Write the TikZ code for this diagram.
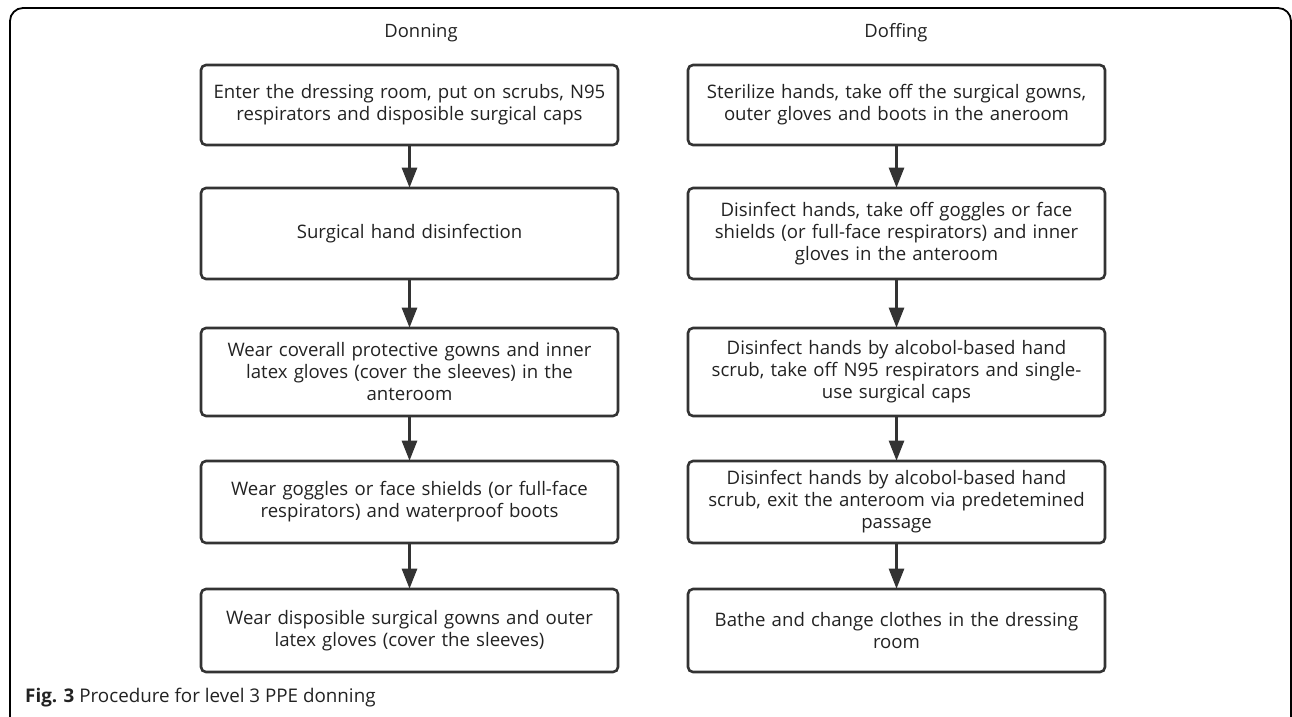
\documentclass[tikz,border=0pt]{standalone}
\usepackage{fontspec}
\setmainfont{Open Sans}
\usetikzlibrary{arrows.meta,positioning}
\definecolor{boxline}{HTML}{333333}
\definecolor{txt}{HTML}{222222}
\tikzset{
  stepbox/.style={draw=boxline, line width=2.6pt, rounded corners=5pt, minimum width=417pt,
    text width=410pt, align=center, text=txt, font=\fontsize{18.6}{22}\selectfont, inner sep=0pt},
  flow/.style={draw=boxline, line width=2.6pt, -{Triangle[length=20pt,width=15pt]}, shorten >=-1pt},
  head/.style={text=txt, font=\fontsize{18.4}{20}\selectfont},
}
\begin{document}
\begin{tikzpicture}[x=1pt,y=-1pt]
\useasboundingbox (0,0) rectangle (1292,716);
\clip (0,0) rectangle (1292,716);
\draw[line width=1.8pt, rounded corners=13pt] (10,730) -- (10,8) -- (1291,8) -- (1291,730);
\node[head] (hdon) at (421,33) {Donning};
\node[head] (hdof) at (896,33) {Doffing};
% left column
\node[stepbox, minimum height=80pt] (l1) at (409.5,105) {Enter the dressing room, put on scrubs, N95\\respirators and disposible surgical caps};
\node[stepbox, minimum height=91pt] (l2) at (409.5,233.5) {Surgical hand disinfection};
\node[stepbox, minimum height=88pt] (l3) at (409.5,372) {Wear coverall protective gowns and inner\\latex gloves (cover the sleeves) in the\\anteroom};
\node[stepbox, minimum height=82pt] (l4) at (409.5,502) {Wear goggles or face shields (or full-face\\respirators) and waterproof boots};
\node[stepbox, minimum height=83pt] (l5) at (409.5,630.5) {Wear disposible surgical gowns and outer\\latex gloves (cover the sleeves)};
% right column
\node[stepbox, minimum height=80pt] (r1) at (896.5,105) {Sterilize hands, take off the surgical gowns,\\outer gloves and boots in the aneroom};
\node[stepbox, minimum height=91pt] (r2) at (896.5,233.5) {Disinfect hands, take off goggles or face\\shields (or full-face respirators) and inner\\gloves in the anteroom};
\node[stepbox, minimum height=88pt] (r3) at (896.5,372) {Disinfect hands by alcobol-based hand\\scrub, take off N95 respirators and single-\\use surgical caps};
\node[stepbox, minimum height=82pt] (r4) at (896.5,502) {Disinfect hands by alcobol-based hand\\scrub, exit the anteroom via predetemined\\passage};
\node[stepbox, minimum height=83pt] (r5) at (896.5,630.5) {Bathe and change clothes in the dressing\\room};
\foreach \a/\b in {l1/l2,l2/l3,l3/l4,l4/l5,r1/r2,r2/r3,r3/r4,r4/r5}
  \draw[flow] (\a.south) -- (\b.north);
\node[anchor=west, text=txt, font=\fontsize{18.8}{20}\selectfont, inner sep=0pt] (cap) at (25,698) {\textbf{Fig. 3} Procedure for level 3 PPE donning};
\end{tikzpicture}
\end{document}
